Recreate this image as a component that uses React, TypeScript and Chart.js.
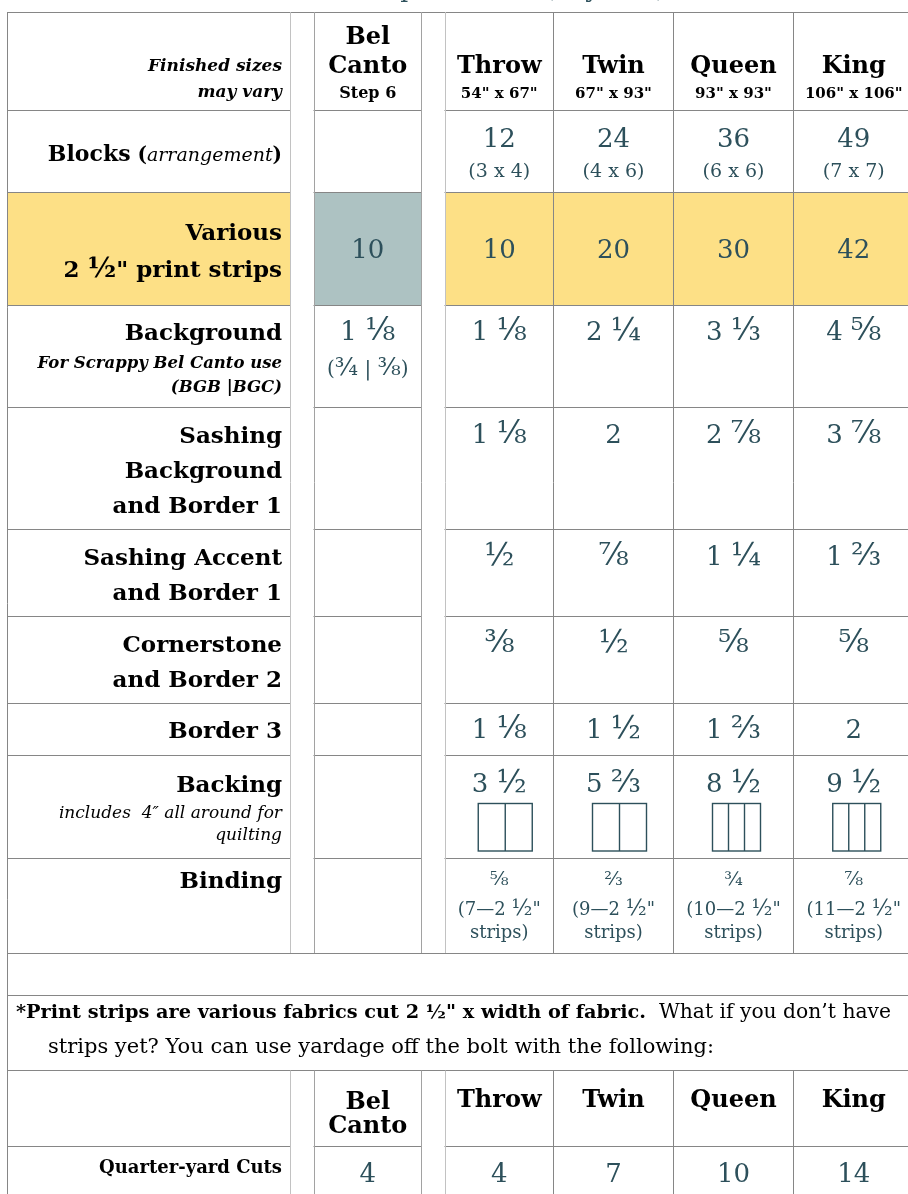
import React, { useEffect, useRef } from "react";
import { Chart, registerables } from "chart.js";

Chart.register(...registerables);

// ---------------- DATA ----------------
const titleText = "Fabric Requirements (any size)";
const sizeNames = ["Throw", "Twin", "Queen", "King"];
const sizeDims = ['54" x 67"', '67" x 93"', '93" x 93"', '106" x 106"'];
const belCantoHeader = ["Bel", "Canto"];
const belCantoStep = "Step 6";
const headerNote = ["Finished sizes", "may vary"];

const blockCounts = ["12", "24", "36", "49"];
const blockArrangements = ["(3 x 4)", "(4 x 6)", "(6 x 6)", "(7 x 7)"];

const printStripsBelCanto = "10";
const printStrips = ["10", "20", "30", "42"];

const backgroundBelCanto = ["1 ⅛", "(¾ | ⅜)"];
const background = ["1 ⅛", "2 ¼", "3 ⅓", "4 ⅝"];
const sashingBackground = ["1 ⅛", "2", "2 ⅞", "3 ⅞"];
const sashingAccent = ["½", "⅞", "1 ¼", "1 ⅔"];
const cornerstone = ["⅜", "½", "⅝", "⅝"];
const border3 = ["1 ⅛", "1 ½", "1 ⅔", "2"];
const backing = ["3 ½", "5 ⅔", "8 ½", "9 ½"];
const backingPanels = [2, 2, 3, 3];
const bindingYards = ["⅝", "⅔", "¾", "⅞"];
const bindingStrips = [7, 9, 10, 11];

const rowTitles = [
  ["Various", '2 ½" print strips'],
  ["Background"],
  ["Sashing", "Background", "and Border 1"],
  ["Sashing Accent", "and Border 1"],
  ["Cornerstone", "and Border 2"],
  ["Border 3"],
  ["Backing"],
  ["Binding"],
];
const blocksTitle = ["Blocks", "arrangement"];
const backgroundNote = ["For Scrappy Bel Canto use", "(BGB |BGC)"];
const backingNote = ["includes  4″ all around for", "quilting"];

const noteBold = '*Print strips are various fabrics cut 2 ½" x width of fabric.';
const noteRegular = "  What if you don’t have";
const noteLine2 = "strips yet? You can use yardage off the bolt with the following:";

const quarterYardLabel = "Quarter-yard Cuts";
const quarterYardBelCanto = "4";
const quarterYardCuts = ["4", "7", "10", "14"];

// ---------------- LAYOUT / STYLE ----------------
const FONT = '"DejaVu Serif", "Liberation Serif", serif';
const fnt = (size: number, style = "") => `${style} ${size}px ${FONT}`.trim();
const TEAL = "#2d505b";
const YELLOW = "#fde086";
const BLUEGRAY = "#adc2c2";
const LINE = "#868686";
const LINE_MID = "#a2a2a2";
const LINE_LIGHT = "#c2c2c2";
const FRACTION_SCALE = 1.2;
const FRACTIONS = /([¼½¾⅓⅔⅛⅜⅝⅞])/;

const XL = 7.5;
const XLAB = 290.5;
const XBEL0 = 314;
const XBEL1 = 421.5;
const XS0 = 445;
const sizeEdges = [445, 553.5, 673.5, 793.5, 914];
const LABEL_RIGHT = 282;

const R = {
  top: 12,
  header: 110,
  blocks: 192,
  various: 305.5,
  background: 407,
  sashBg: 529,
  sashAcc: 616,
  corner: 703,
  border3: 755,
  backing: 858,
  binding: 953,
  empty: 995,
  note: 1070.5,
  h2: 1146,
  end: 1240,
};

const labelBaselines = [
  [240, 277],
  [340],
  [443, 478, 513],
  [565, 600],
  [652, 687],
  [738],
  [792],
  [888],
];
const valueBaselines = [258, 340, 443, 565, 652, 738, 792];

type Seg = { t: string; font: string; color?: string };

const tablePlugin = {
  id: "quiltTable",
  afterDraw(chart: any) {
    const ctx: CanvasRenderingContext2D = chart.ctx;
    const xs = chart.scales.x;
    const ys = chart.scales.y;
    const px = (v: number) => xs.getPixelForValue(v);
    const py = (v: number) => ys.getPixelForValue(v);
    const crisp = (v: number) => Math.round(v - 0.5) + 0.5;

    const rect = (x0: number, y0: number, x1: number, y1: number, color: string) => {
      ctx.fillStyle = color;
      ctx.fillRect(px(x0), py(y0), px(x1) - px(x0), py(y1) - py(y0));
    };
    const hline = (y: number, x0: number, x1: number, color = LINE) => {
      ctx.strokeStyle = color;
      ctx.lineWidth = 1;
      ctx.beginPath();
      ctx.moveTo(px(x0) - 0.5, crisp(py(y)));
      ctx.lineTo(px(x1) + 0.5, crisp(py(y)));
      ctx.stroke();
    };
    const vline = (x: number, y0: number, y1: number, color = LINE) => {
      ctx.strokeStyle = color;
      ctx.lineWidth = 1;
      ctx.beginPath();
      ctx.moveTo(crisp(px(x)), py(y0));
      ctx.lineTo(crisp(px(x)), py(y1));
      ctx.stroke();
    };
    const rich = (segs: Seg[], x: number, y: number, align: "left" | "right" | "center") => {
      ctx.textAlign = "left";
      ctx.textBaseline = "alphabetic";
      const widths = segs.map((s) => {
        ctx.font = s.font;
        return ctx.measureText(s.t).width;
      });
      const total = widths.reduce((a, b) => a + b, 0);
      let cx = align === "right" ? px(x) - total : align === "center" ? px(x) - total / 2 : px(x);
      segs.forEach((s, i) => {
        ctx.font = s.font;
        ctx.fillStyle = s.color || "#000";
        ctx.fillText(s.t, cx, py(y));
        cx += widths[i];
      });
    };
    const text = (
      t: string,
      x: number,
      y: number,
      size: number,
      style = "",
      color = "#000",
      align: "left" | "right" | "center" = "center"
    ) => {
      const parts = t.split(FRACTIONS).filter((p) => p.length > 0);
      const segs = parts.map((p) => ({
        t: p,
        font: fnt(FRACTIONS.test(p) ? size * FRACTION_SCALE : size, style),
        color,
      }));
      rich(segs, x, y, align);
    };

    const sizeCenters = sizeNames.map((_, i) => (sizeEdges[i] + sizeEdges[i + 1]) / 2);
    const belCenter = (XBEL0 + XBEL1) / 2;

    ctx.save();

    // fills
    rect(XL, R.blocks, XLAB, R.various, YELLOW);
    rect(XS0, R.blocks, sizeEdges[4], R.various, YELLOW);
    rect(XBEL0, R.blocks, XBEL1, R.various, BLUEGRAY);

    // title (cut off at the top edge)
    text(titleText, 468, -3, 25, "", TEAL);

    // horizontal lines
    const inner = [R.header, R.blocks, R.various, R.background, R.sashBg, R.sashAcc, R.corner, R.border3, R.backing, R.h2];
    inner.forEach((y) => {
      hline(y, XL, XLAB);
      hline(y, XBEL0, XBEL1);
      hline(y, XS0, sizeEdges[4]);
    });
    [R.top, R.binding, R.empty, R.note].forEach((y) => hline(y, XL, sizeEdges[4]));

    // vertical lines
    vline(XL, R.top, R.end);
    const spans: [number, number][] = [
      [R.top, R.binding],
      [R.note, R.end],
    ];
    spans.forEach(([a, b]) => {
      vline(XLAB, a, b, LINE_LIGHT);
      vline(XBEL0, a, b, LINE_MID);
      vline(XBEL1, a, b, LINE_MID);
      vline(XS0, a, b, LINE_LIGHT);
      for (let i = 1; i < 4; i++) vline(sizeEdges[i], a, b);
    });

    // header row
    text(headerNote[0], LABEL_RIGHT, 71, 17, "italic bold", "#000", "right");
    text(headerNote[1], LABEL_RIGHT, 97, 17, "italic bold", "#000", "right");
    text(belCantoHeader[0], belCenter, 44, 24, "bold");
    text(belCantoHeader[1], belCenter, 73, 24, "bold");
    text(belCantoStep, belCenter, 98, 16, "bold");
    sizeNames.forEach((n, i) => {
      text(n, sizeCenters[i], 73, 24, "bold");
      text(sizeDims[i], sizeCenters[i], 98, 15, "bold");
    });

    // blocks row
    rich(
      [
        { t: blocksTitle[0], font: fnt(22, "bold") },
        { t: " (", font: fnt(20, "bold") },
        { t: blocksTitle[1], font: fnt(19, "italic") },
        { t: ")", font: fnt(20, "bold") },
      ],
      LABEL_RIGHT,
      161,
      "right"
    );
    blockCounts.forEach((v, i) => {
      text(v, sizeCenters[i], 147, 26, "", TEAL);
      text(blockArrangements[i], sizeCenters[i], 177, 19, "", TEAL);
    });

    // row labels
    rowTitles.forEach((lines, r) => {
      lines.forEach((l, k) => text(l, LABEL_RIGHT, labelBaselines[r][k], 23, "bold", "#000", "right"));
    });
    text(backgroundNote[0], LABEL_RIGHT, 368, 16.5, "italic bold", "#000", "right");
    text(backgroundNote[1], LABEL_RIGHT, 392, 16.5, "italic bold", "#000", "right");
    text(backingNote[0], LABEL_RIGHT, 818, 17, "italic", "#000", "right");
    text(backingNote[1], LABEL_RIGHT, 840, 17, "italic", "#000", "right");

    // values
    const valueRows = [printStrips, background, sashingBackground, sashingAccent, cornerstone, border3, backing];
    valueRows.forEach((row, r) => {
      row.forEach((v, i) => text(v, sizeCenters[i], valueBaselines[r], 26, "", TEAL));
    });
    text(printStripsBelCanto, belCenter, 258, 26, "", TEAL);
    text(backgroundBelCanto[0], belCenter, 340, 26, "", TEAL);
    text(backgroundBelCanto[1], belCenter, 375, 20, "", TEAL);

    // backing panel icons
    backingPanels.forEach((n, i) => {
      const pw = n === 2 ? 27 : 16;
      const w = pw * n;
      const cx = sizeCenters[i] + (n === 2 ? 6 : 3);
      const x0 = cx - w / 2;
      const y0 = 803.5;
      const y1 = 851;
      ctx.strokeStyle = TEAL;
      ctx.lineWidth = 1.4;
      ctx.strokeRect(px(x0), py(y0), px(x0 + w) - px(x0), py(y1) - py(y0));
      for (let k = 1; k < n; k++) {
        ctx.beginPath();
        ctx.moveTo(px(x0 + k * pw), py(y0));
        ctx.lineTo(px(x0 + k * pw), py(y1));
        ctx.stroke();
      }
    });

    // binding
    bindingYards.forEach((v, i) => {
      text(v, sizeCenters[i], 885, 16, "", TEAL);
      text(`(${bindingStrips[i]}—2 ½"`, sizeCenters[i], 915, 18, "", TEAL);
      text("strips)", sizeCenters[i], 938, 18, "", TEAL);
    });

    // note row
    rich(
      [
        { t: noteBold, font: fnt(19.3, "bold") },
        { t: noteRegular, font: fnt(20.3) },
      ],
      16,
      1018,
      "left"
    );
    text(noteLine2, 48, 1053, 21, "", "#000", "left");

    // second table
    text(belCantoHeader[0], belCenter, 1109, 24, "bold");
    text(belCantoHeader[1], belCenter, 1133, 24, "bold");
    sizeNames.forEach((n, i) => text(n, sizeCenters[i], 1107, 24, "bold"));
    text(quarterYardLabel, LABEL_RIGHT, 1173, 18, "bold", "#000", "right");
    text(quarterYardBelCanto, belCenter, 1182, 26, "", TEAL);
    quarterYardCuts.forEach((v, i) => text(v, sizeCenters[i], 1182, 26, "", TEAL));

    ctx.restore();
  },
};

export default function App() {
  const ref = useRef<HTMLCanvasElement | null>(null);
  useEffect(() => {
    if (!ref.current) return;
    const chart = new Chart(ref.current, {
      type: "scatter",
      data: { datasets: [{ data: [], pointRadius: 0 }] },
      options: {
        animation: false,
        responsive: false,
        maintainAspectRatio: false,
        events: [],
        layout: { padding: 0 },
        plugins: { legend: { display: false }, tooltip: { enabled: false } },
        scales: {
          x: { type: "linear", min: 0, max: 908, display: false },
          y: { type: "linear", min: 0, max: 1194, reverse: true, display: false },
        },
      },
      plugins: [tablePlugin],
    } as any);
    return () => chart.destroy();
  }, []);
  return (
    <div style={{ position: "fixed", left: 0, top: 0, width: 908, height: 1194, background: "#fff" }}>
      <canvas ref={ref} width={908} height={1194} style={{ display: "block" }} />
    </div>
  );
}
